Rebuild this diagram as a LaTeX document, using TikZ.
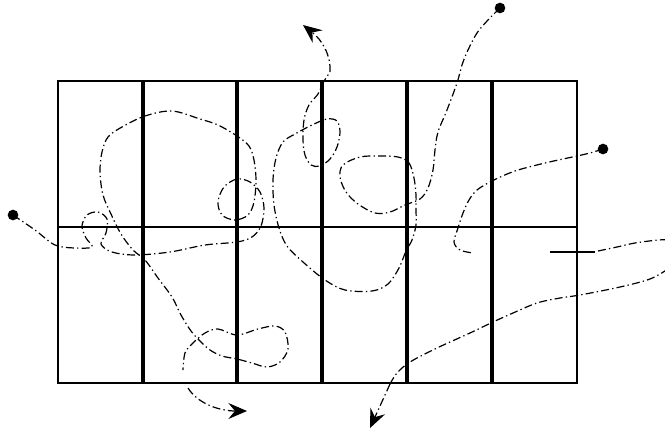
\documentclass[tikz,border=0pt]{standalone}
\usetikzlibrary{arrows.meta}
\begin{document}
\begin{tikzpicture}[x=0.75pt,y=-0.75pt,
  thinline/.style={line width=0.9pt},
  thickline/.style={line width=2.4pt},
  traj/.style={line width=0.9pt, dash pattern=on 6pt off 2.4pt on 1pt off 2.4pt},
  tipped/.style={-{Stealth[length=14pt,width=12pt,inset=5pt]}},
  dotnode/.style={circle,fill=black,inner sep=0pt,minimum size=8pt}]
\useasboundingbox (0,0) rectangle (665,433);
% grid
\draw[thinline] (58,81) rectangle (577,383);
\draw[thinline] (58,227) -- (577,227);
\foreach \x in {143,237,322,407,492} \draw[thickline] (\x,81) -- (\x,383);
% start dots
\node[dotnode] (s1) at (13,215) {};
\node[dotnode] (s2) at (500,8) {};
\node[dotnode] (s3) at (603,149) {};
% trajectory 1
\draw[traj] plot[smooth,tension=0.55] coordinates {(13,215) (35,230) (55,245) (75,248) (92,247) (86,238) (82,226) (87,215) (98,212) (107,219) (106,233) (101,244) (112,252) (135,255) (170,252) (205,245) (237,242) (252,237) (261,226) (264,208) (260,192) (250,182) (237,179) (224,187) (218,202) (222,215) (235,220) (248,215) (254,202) (256,180) (254,160) (249,146) (237,136) (218,125) (200,119) (172,111) (145,116) (122,127) (108,137) (102,152) (100,172) (103,195) (111,214) (121,234) (133,250) (145,260) (158,278) (172,297) (181,315) (191,331) (200,341) (210,350) (222,356) (237,359) (252,363) (267,367) (280,362) (288,349) (285,332) (275,326) (258,329) (237,335) (218,329) (205,333) (193,343) (185,353) (183,370)};
\coordinate (t1a) at (188,388);
\coordinate (e1) at (247,411);
\draw[traj,tipped] (t1a) .. controls (198,404) and (220,411) .. (e1);
% trajectory 2
\draw[traj] plot[smooth,tension=0.55] coordinates {(500,8) (488,20) (477,33) (468,50) (462,65) (457,83) (447,110) (438,132) (435,150) (433,170) (428,188) (420,199) (405,205) (390,212) (375,213) (358,204) (346,192) (340,177) (343,165) (360,157) (380,156) (398,157) (409,163) (414,178) (416,195) (416,210) (416,225) (412,240) (406,251) (399,268) (388,284) (372,291) (345,290) (325,280) (303,262) (287,246) (279,228) (274,205) (273,180) (276,158) (283,142) (295,134) (312,125) (327,119) (337,121) (340,132) (337,147) (330,159) (320,166) (311,165) (305,155) (303,140) (304,120) (309,105) (318,94) (323,83) (330,72)};
\coordinate (t2a) at (330,72);
\coordinate (e2) at (303,25);
\draw[traj,tipped] (t2a) .. controls (331,55) and (322,40) .. (e2);
% trajectory 3
\draw[traj] plot[smooth,tension=0.55] coordinates {(603,149) (590,153) (577,156) (545,163) (515,171) (492,181) (477,190) (469,200) (463,213) (458,228) (454,242) (460,250) (473,253)};
\coordinate (h1) at (550,252);
\coordinate (h2) at (595,252);
\draw[thinline] (h1) -- (h2);
\draw[traj] plot[smooth,tension=0.55] coordinates {(598,251) (617,247) (635,243) (658,240) (668,240)};
\draw[traj] plot[smooth,tension=0.55] coordinates {(668,269) (650,279) (620,287) (580,295) (560,298) (537,303) (513,313) (493,322) (470,333) (437,348) (410,362) (397,373) (390,384)};
\coordinate (t3a) at (390,384);
\coordinate (e3) at (370,428);
\draw[traj,tipped] (t3a) -- (e3);
\end{tikzpicture}
\end{document}
